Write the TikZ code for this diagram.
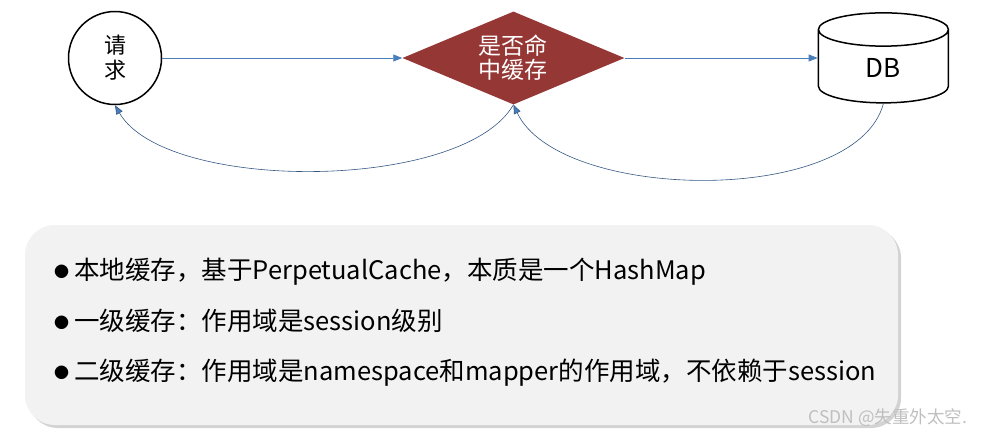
\documentclass[tikz,border=0pt]{standalone}
\usepackage{fontspec}
\setmainfont{Noto Sans CJK SC}
\usetikzlibrary{positioning,shapes.geometric,arrows.meta,shadows}
\definecolor{hitred}{HTML}{953735}
\definecolor{arrblue}{HTML}{4A7EBB}
\definecolor{boxgray}{HTML}{F2F2F2}
\newcommand{\dotmark}{\raisebox{2pt}{\fontsize{15}{15}\selectfont ●}\hspace{5pt}}
\begin{document}
\begin{tikzpicture}[x=1pt,y=1pt,node distance=240pt,every node/.style={inner sep=1pt}]
\tikzstyle{arrow}=[draw,arrblue,line width=0.8pt,-{Triangle[length=9pt,width=7pt]}]
\tikzstyle{back}=[draw,arrblue!70!black,line width=0.6pt,-{Triangle[length=9pt,width=7pt,fill=arrblue]}]
\tikzstyle{line}=[anchor=base west,font=\fontsize{25.5}{28}\selectfont]
\useasboundingbox (0,0) rectangle (990,-437);

\node[circle,draw,line width=1.5pt,minimum size=93pt,align=center,font=\fontsize{22}{25}\selectfont](req) at (115,-58){请\\求};
\node[diamond,fill=hitred,text=white,minimum width=222pt,minimum height=93pt,aspect=2.4,align=center,font=\fontsize{23}{24}\selectfont,right=240pt of req](hit){是否命\\中缓存};
\node[cylinder,shape border rotate=90,draw,line width=1.5pt,aspect=0.9,minimum width=130pt,minimum height=90pt,font=\fontsize{26}{30}\selectfont,right=193pt of hit,yshift=-10pt](db){DB};

\path[arrow](req.east)--(hit.west);
\path[arrow](hit.east)--(hit.east-|db.west);
\path[back](hit.south) to[out=-120,in=-60,looseness=0.65] (req.south);
\path[back](db.south) to[out=-105,in=-65,looseness=0.74] (hit.south);

% note box
\node[fill=boxgray,rounded corners=30pt,drop shadow={shadow xshift=3pt,shadow yshift=-3pt,opacity=0.35},minimum width=873pt,minimum height=200pt](note) at (461.5,-325){};
\node[line](l1) at (53,-279){\dotmark 本地缓存，基于PerpetualCache，本质是一个HashMap};
\node[line,below=51pt of l1.base west,anchor=base west](l2){\dotmark 一级缓存：作用域是session级别};
\node[line,below=50pt of l2.base west,anchor=base west](l3){\dotmark 二级缓存：作用域是namespace和mapper的作用域，不依赖于session};

\node[text=gray!50,font=\fontsize{17.5}{20}\selectfont](csdn) at (888,-418){CSDN @失重外太空.};
\end{tikzpicture}
\end{document}
